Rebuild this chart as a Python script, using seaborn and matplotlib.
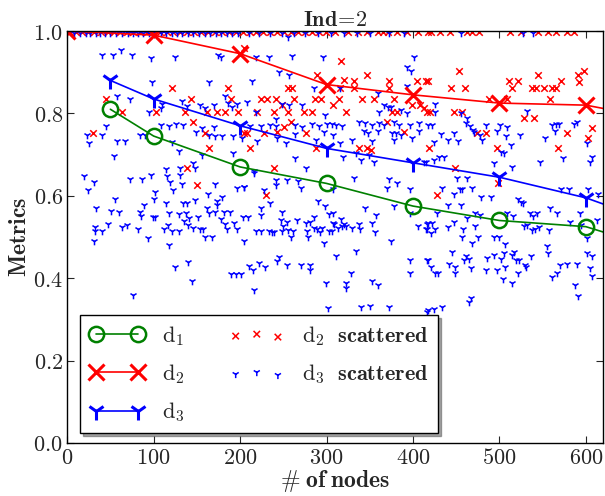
import matplotlib
matplotlib.use("Agg")
import matplotlib.pyplot as plt
import seaborn as sns
from matplotlib.ticker import FuncFormatter

# ---------------- data ----------------
d1_x = [50, 100, 200, 300, 400, 500, 600, 620]
d1_y = [0.81, 0.745, 0.67, 0.63, 0.575, 0.54, 0.525, 0.512]
d2_x = [0, 100, 200, 300, 400, 500, 600, 620]
d2_y = [1.0, 0.99, 0.945, 0.87, 0.845, 0.825, 0.82, 0.812]
d3_x = [50, 100, 200, 300, 400, 500, 600, 620]
d3_y = [0.88, 0.835, 0.77, 0.715, 0.68, 0.645, 0.595, 0.58]

red_top_x = [3, 10, 17, 24, 31, 39, 47, 54, 61, 69, 76, 84, 92, 99, 107, 115, 123,
             131, 139, 147, 155, 163, 171, 179, 187, 195, 203, 211, 219, 227, 235,
             243, 251, 259, 267, 275, 283, 291, 299, 310, 325, 336, 347, 360, 365,
             371, 382, 393, 406, 417, 421, 431, 443, 462, 468, 476, 512, 525, 545,
             556, 566, 578, 586]
blue_top_x = [8, 15, 22, 27, 33, 38, 44, 50, 57, 63, 70, 76, 82, 88, 95, 101, 108,
              114, 121, 127, 133, 140, 146, 152, 159, 165, 172, 178, 185, 191, 198,
              210, 222, 235, 248, 262, 275, 290, 305, 320, 335, 350, 372, 390, 455,
              527, 539]

red_points = [
    (121, .861), (186, .861), (45, .836), (64, .803), (103, .803), (143, .836),
    (136, .803), (146, .780), (162, .803), (173, .803), (182, .803), (189, .836),
    (198, .803), (30, .753), (159, .753), (164, .717), (205, .753), (139, .668),
    (205, .958), (317, .927), (289, .892), (320, .881), (332, .879), (347, .892),
    (372, .879), (405, .879), (415, .879), (372, .861), (255, .861), (260, .861),
    (316, .861), (332, .861), (224, .836), (231, .836), (241, .836), (262, .836),
    (287, .836), (294, .836), (314, .836), (341, .836), (355, .836), (378, .836),
    (399, .820), (408, .820), (307, .820), (249, .820), (220, .803), (239, .803),
    (255, .803), (274, .803), (283, .803), (322, .803), (376, .803), (382, .803),
    (251, .768), (259, .778), (228, .752), (243, .754), (208, .752), (276, .752),
    (370, .780), (390, .754), (212, .717), (288, .717), (338, .717), (347, .717),
    (352, .711), (239, .668), (453, .904), (417, .879), (444, .861), (460, .861),
    (511, .879), (521, .879), (515, .861), (545, .892), (571, .879), (538, .861),
    (542, .861), (551, .861), (561, .861), (566, .861), (591, .892), (598, .904),
    (592, .877), (488, .836), (509, .836), (558, .836), (413, .812), (416, .803),
    (420, .803), (447, .803), (457, .803), (528, .788), (540, .788), (607, .764),
    (578, .753), (474, .753), (484, .753), (602, .740), (419, .717), (497, .717),
    (568, .717), (449, .668), (150, .626), (230, .602), (428, .602), (498, .632),
]

blue_points = [
    (40, .942), (53, .942), (62, .954), (75, .942), (97, .934), (125, .937), (175, .942),
    (178, .937), (98, .877), (164, .877), (58, .843), (73, .835), (110, .823), (108, .814),
    (133, .830), (139, .818), (154, .820), (159, .812), (170, .820), (182, .841), (186, .826),
    (191, .816), (197, .823), (95, .803), (109, .773), (118, .770), (126, .775), (134, .772),
    (149, .754), (156, .764), (170, .768), (164, .748), (171, .746), (179, .746), (192, .744),
    (202, .740), (23, .748), (25, .727), (40, .748), (45, .769), (58, .734), (67, .734),
    (84, .748), (90, .748), (54, .697), (121, .731), (129, .709), (156, .699), (192, .703),
    (130, .667), (146, .679), (148, .667), (114, .665),
    (256, .985), (218, .937), (234, .937), (260, .940), (296, .937), (401, .937), (393, .913),
    (398, .903), (245, .901), (257, .892), (214, .879), (285, .861), (316, .861), (359, .849),
    (393, .866), (208, .828), (272, .820), (249, .822), (257, .820), (366, .820), (371, .816),
    (375, .816), (218, .803), (298, .795), (361, .803), (386, .808), (393, .800), (241, .786),
    (212, .770), (224, .770), (235, .773), (241, .770), (264, .772), (272, .766), (283, .775),
    (291, .770), (301, .775), (306, .775), (311, .773), (318, .770), (338, .778), (344, .776),
    (353, .773), (361, .776), (366, .772), (378, .778), (384, .772), (397, .773), (407, .776),
    (343, .757), (348, .752), (359, .757), (376, .752), (380, .752), (386, .748), (407, .757),
    (399, .740), (220, .733), (243, .740), (253, .727), (264, .749), (288, .735), (297, .756),
    (307, .748), (316, .727), (330, .735), (353, .733), (378, .735), (319, .695), (334, .703),
    (340, .687), (349, .699), (355, .681), (264, .691), (276, .667), (216, .659), (413, .683),
    (426, .822), (426, .803), (455, .800), (462, .790), (532, .806), (417, .773), (422, .773),
    (461, .776), (466, .770), (469, .760), (471, .756), (478, .748), (480, .735), (485, .773),
    (501, .772), (509, .768), (497, .757), (447, .752), (452, .733), (440, .735), (432, .749),
    (424, .731), (508, .744), (513, .723), (502, .707), (505, .703), (524, .748), (515, .671),
    (561, .772), (565, .775), (569, .775), (564, .757), (586, .775), (590, .778), (553, .740),
    (601, .727), (607, .695), (605, .683), (573, .692), (547, .683), (494, .679), (430, .695),
    (436, .695), (424, .687), (415, .683),
    (20, .648), (31, .634), (24, .614), (33, .570), (55, .592), (51, .563), (60, .561),
    (47, .532), (32, .524), (32, .515), (40, .515), (31, .491), (63, .523), (69, .529),
    (82, .519), (73, .640), (87, .640), (97, .650), (84, .561), (85, .551), (89, .578),
    (99, .549), (102, .549), (101, .592), (102, .608), (94, .497), (114, .582), (118, .559),
    (112, .519), (117, .529), (121, .515), (129, .515), (116, .648), (119, .634), (123, .614),
    (131, .650), (133, .629), (118, .481), (129, .555), (135, .539), (138, .559), (134, .582),
    (139, .582), (141, .547), (140, .529), (145, .521), (148, .590), (151, .549), (154, .519),
    (157, .519), (160, .501), (168, .501), (163, .604), (162, .570), (164, .558), (171, .560),
    (173, .588), (173, .578), (179, .596), (181, .561), (188, .560), (171, .629), (178, .543),
    (183, .532), (185, .519), (193, .533), (197, .519), (203, .549), (204, .491), (197, .618),
    (204, .622), (125, .428), (140, .439), (144, .393), (189, .409), (195, .409), (201, .409),
    (76, .359),
    (216, .656), (205, .622), (241, .638), (241, .626), (254, .638), (267, .636), (270, .620),
    (228, .614), (235, .582), (224, .570), (224, .553), (209, .549), (249, .560), (247, .541),
    (254, .537), (266, .541), (250, .526), (219, .515), (224, .515), (234, .515), (237, .513),
    (239, .511), (248, .515), (256, .517), (261, .515), (259, .501), (276, .533), (281, .537),
    (285, .548), (277, .515), (279, .501), (285, .521), (289, .519), (295, .521), (293, .513),
    (303, .515), (306, .515), (290, .588), (298, .575), (303, .555), (308, .559), (307, .533),
    (309, .532), (317, .543), (320, .532), (313, .521), (318, .526), (322, .527), (330, .521),
    (337, .532), (339, .519), (308, .616), (297, .485), (334, .467), (311, .454), (332, .642),
    (345, .570), (353, .533), (356, .513), (357, .553), (372, .640), (382, .630), (370, .618),
    (396, .616), (378, .575), (397, .559), (374, .489), (406, .527), (416, .532), (415, .519),
    (397, .444), (416, .444), (210, .430), (215, .420), (222, .436), (229, .428), (243, .442),
    (245, .452), (254, .432), (270, .432), (281, .432), (281, .421), (328, .412), (397, .412),
    (299, .388), (322, .388), (323, .375), (353, .392), (359, .383), (216, .371), (302, .327),
    (340, .331), (350, .332), (372, .331), (416, .319),
    (434, .618), (447, .604), (454, .616), (457, .616), (468, .618), (463, .642), (451, .642),
    (479, .598), (490, .598), (521, .592), (525, .586), (527, .582), (571, .616), (580, .616),
    (603, .616), (614, .604), (440, .578), (455, .578), (428, .559), (472, .559), (477, .553),
    (509, .559), (516, .551), (535, .557), (539, .551), (543, .559), (558, .570), (567, .559),
    (593, .559), (417, .533), (422, .535), (416, .519), (426, .519), (421, .509), (447, .537),
    (440, .524), (463, .546), (458, .519), (472, .526), (457, .501), (468, .486), (475, .501),
    (494, .501), (500, .501), (506, .483), (528, .526), (532, .529), (538, .517), (541, .519),
    (546, .524), (557, .517), (582, .537), (594, .529), (613, .540), (601, .497), (555, .478),
    (556, .462), (445, .464), (461, .454), (459, .444), (465, .446), (417, .444), (421, .426),
    (425, .412), (429, .412), (442, .434), (449, .426), (449, .412), (467, .424), (486, .448),
    (494, .456), (502, .446), (505, .460), (514, .456), (517, .464), (519, .444), (523, .443),
    (536, .454), (530, .432), (531, .426), (485, .421), (497, .421), (507, .428), (521, .413),
    (504, .397), (514, .388), (570, .432), (578, .434), (590, .434), (605, .424), (607, .405),
    (601, .460), (607, .454), (561, .404), (567, .413), (587, .383), (591, .357), (465, .341),
    (467, .351), (417, .323), (424, .325), (433, .329),
]

x_ticks = [0, 100, 200, 300, 400, 500, 600]
y_ticks = [0.0, 0.2, 0.4, 0.6, 0.8, 1.0]

# ---------------- style ----------------
sns.set_style("ticks")
plt.rcParams.update({
    "mathtext.fontset": "cm",
    "font.family": ["DejaVu Serif"],
    "xtick.direction": "in",
    "ytick.direction": "in",
    "xtick.top": True,
    "ytick.right": True,
    "xtick.major.size": 5,
    "ytick.major.size": 5,
    "axes.edgecolor": "black",
    "axes.linewidth": 1.0,
})

fig = plt.figure(figsize=(6.05, 4.96), dpi=100)
ax = fig.add_axes([0.111, 0.107, 0.886, 0.8305])

rx = [p[0] for p in red_points] + red_top_x
ry = [p[1] for p in red_points] + [0.997] * len(red_top_x)
bx = [p[0] for p in blue_points] + blue_top_x
by = [p[1] for p in blue_points] + [0.996] * len(blue_top_x)

mark_idx = list(range(len(d1_x) - 1))

sns.lineplot(x=d1_x, y=d1_y, ax=ax, color="green", linewidth=1.2, marker="o",
             markersize=11, markerfacecolor="none", markeredgecolor="green",
             markeredgewidth=1.8, markevery=mark_idx, errorbar=None,
             label=r"$\mathrm{d}_1$")
sns.lineplot(x=d2_x, y=d2_y, ax=ax, color="red", linewidth=1.2, marker="x",
             markersize=12, markeredgecolor="red", markeredgewidth=2.2,
             markevery=mark_idx, errorbar=None, label=r"$\mathrm{d}_2$")
sns.lineplot(x=d3_x, y=d3_y, ax=ax, color="blue", linewidth=1.2, marker="1",
             markersize=13, markeredgecolor="blue", markeredgewidth=2.2,
             markevery=mark_idx, errorbar=None, label=r"$\mathrm{d}_3$")

sns.scatterplot(x=rx, y=ry, ax=ax, marker="x", color="red", s=22, linewidth=1.1,
                label=r"$\mathrm{d}_2\ \ \mathbf{scattered}$", zorder=1)
sns.scatterplot(x=bx, y=by, ax=ax, marker="1", color="blue", s=30, linewidth=1.1,
                label=r"$\mathrm{d}_3\ \ \mathbf{scattered}$", zorder=1)

ax.set_xlim(0, 620)
ax.set_ylim(0, 1.0)
ax.set_xticks(x_ticks)
ax.set_yticks(y_ticks)
ax.xaxis.set_major_formatter(FuncFormatter(lambda v, p: r"$\mathbf{%d}$" % v))
ax.yaxis.set_major_formatter(FuncFormatter(lambda v, p: r"$\mathbf{%.1f}$" % v))
ax.tick_params(labelsize=16, pad=3)

ax.set_xlabel(r"$\mathbf{\#\;of\;nodes}$", fontsize=17, labelpad=-1)
ax.set_ylabel(r"$\mathbf{Metrics}$", fontsize=17, labelpad=2)
ax.set_title(r"$\mathbf{Ind\!=\!2}$", fontsize=16, pad=2)

leg = ax.legend(loc="lower left", ncol=2, fontsize=16, shadow=True, fancybox=False,
                framealpha=1, edgecolor="black", numpoints=2, scatterpoints=3,
                bbox_to_anchor=(0.024, 0.024), borderaxespad=0, columnspacing=2.0,
                handlelength=2.5, labelspacing=0.65)
leg.get_frame().set_linewidth(1.0)

fig.savefig("out.png", dpi=100)
